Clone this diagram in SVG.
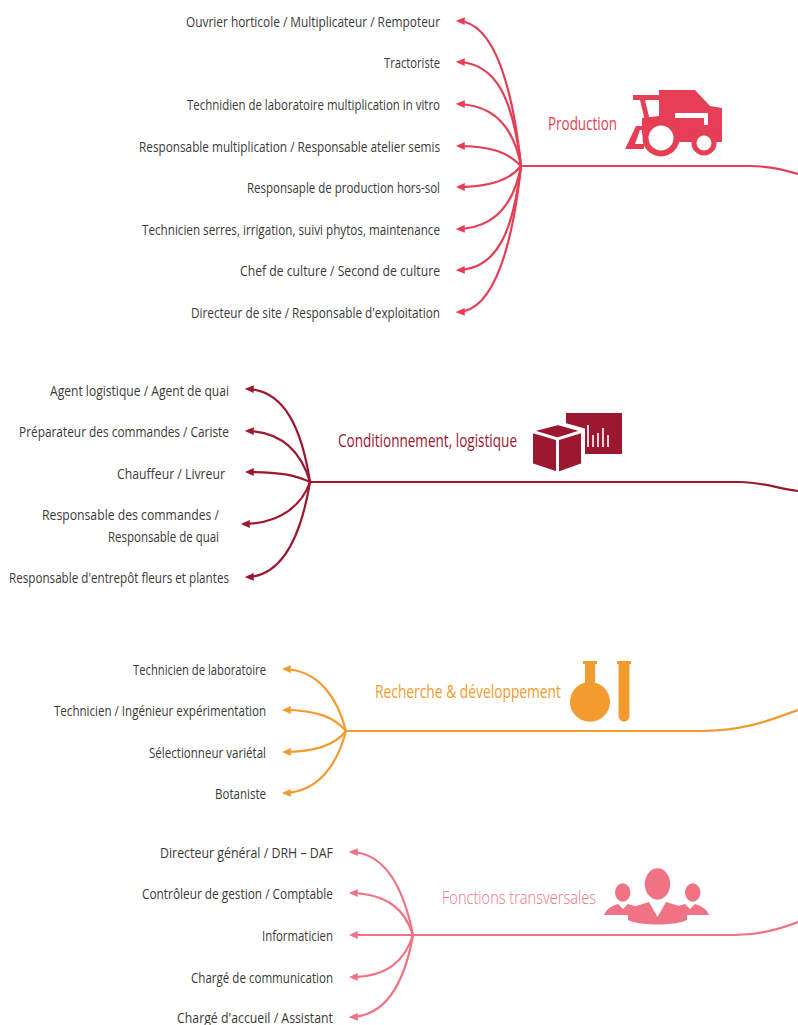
<svg xmlns="http://www.w3.org/2000/svg" width="798" height="1025" viewBox="0 0 798 1025">
<style>
text{font-family:"Open Sans","Liberation Sans",sans-serif}
.l{font-size:14.5px;fill:#3a3a3a}
.t{font-size:18px;font-weight:400}
.c{fill:none;stroke-width:2.2}
.a{stroke:#e63e54}.b{stroke:#9c1730}.o{stroke:#f29b2e}.p{stroke:#ef7384}
.ca{marker-end:url(#ma)}.cb{marker-end:url(#mb)}.co{marker-end:url(#mo)}.cp{marker-end:url(#mp)}
</style>
<defs>
<marker id="ma" markerUnits="userSpaceOnUse" viewBox="0 0 8 8" refX="6" refY="4" markerWidth="9" markerHeight="9" orient="auto"><path d="M0,0.5 L8,4 L0,7.5Z" fill="#e63e54"/></marker>
<marker id="mb" markerUnits="userSpaceOnUse" viewBox="0 0 8 8" refX="6" refY="4" markerWidth="9" markerHeight="9" orient="auto"><path d="M0,0.5 L8,4 L0,7.5Z" fill="#9c1730"/></marker>
<marker id="mo" markerUnits="userSpaceOnUse" viewBox="0 0 8 8" refX="6" refY="4" markerWidth="9" markerHeight="9" orient="auto"><path d="M0,0.5 L8,4 L0,7.5Z" fill="#f29b2e"/></marker>
<marker id="mp" markerUnits="userSpaceOnUse" viewBox="0 0 8 8" refX="6" refY="4" markerWidth="9" markerHeight="9" orient="auto"><path d="M0,0.5 L8,4 L0,7.5Z" fill="#ef7384"/></marker>
</defs>
<rect width="798" height="1025" fill="#fff"/>
<g id="connectors">
<g class="c a">
<path d="M521,166H750C770,166 785,170 798,174"/>
<path class="ca" d="M521,166C513,90 495,22 458,21"/>
<path class="ca" d="M521,166C513,100 497,63 458,62"/>
<path class="ca" d="M521,166C514,128 495,105 458,104"/>
<path class="ca" d="M521,166C508,152 490,146 458,146"/>
<path class="ca" d="M521,166C510,180 490,187 458,187"/>
<path class="ca" d="M521,166C514,204 495,228 458,229"/>
<path class="ca" d="M521,166C513,232 497,269 458,270"/>
<path class="ca" d="M521,166C513,242 495,311 458,312"/>
</g>
<g class="c b">
<path d="M310,482H740C762,482 780,489 798,491"/>
<path class="cb" d="M310,482C302,430 285,390 247,389"/>
<path class="cb" d="M310,482C302,455 285,432 247,431"/>
<path class="cb" d="M310,482C295,475 280,472 247,472"/>
<path class="cb" d="M310,482C302,505 280,524 243,524"/>
<path class="cb" d="M310,482C302,530 285,576 247,577"/>
</g>
<g class="c o">
<path d="M346,731H700C745,731 770,720 798,710"/>
<path class="co" d="M346,731C338,700 320,670 284,669"/>
<path class="co" d="M346,731C335,718 318,710 284,710"/>
<path class="co" d="M346,731C336,744 318,752 284,752"/>
<path class="co" d="M346,731C338,762 320,792 284,793"/>
</g>
<g class="c p">
<path d="M413,935H735C760,935 780,929 798,922"/>
<path class="cp" d="M413,935C405,895 388,853 351,852"/>
<path class="cp" d="M413,935C405,910 388,894 351,893"/>
<path class="cp" d="M413,935H351"/>
<path class="cp" d="M413,935C405,960 388,977 351,977"/>
<path class="cp" d="M413,935C405,980 388,1016 351,1017"/>
</g>
</g>
<g id="node-production">
<text class="t" x="548" y="130" textLength="69" lengthAdjust="spacingAndGlyphs" fill="#e63e54">Production</text>
<g id="icon-harvester" fill="#e63e54">
<path d="M659,90H695L710,106L722,108V142H716A12.5,12.5 0 0 0 692,142H678A18,18 0 0 0 642,138V118L659,116Z"/>
<circle cx="661" cy="138" r="15.5" fill="#fff" stroke="#e63e54" stroke-width="6"/>
<circle cx="704" cy="143" r="10" fill="#fff" stroke="#e63e54" stroke-width="5"/>
<path d="M633,95H660V100H645L651,125H646L640,100H633Z"/>
<path d="M636,126H650V130H640L635,144H644V149H625Z"/>
<path d="M675,113H708V125H704V118H675Z" fill="#fff"/>
</g>
<g class="l">
<text x="186" y="27" textLength="254" lengthAdjust="spacingAndGlyphs">Ouvrier horticole / Multiplicateur / Rempoteur</text>
<text x="384" y="68" textLength="56" lengthAdjust="spacingAndGlyphs">Tractoriste</text>
<text x="187" y="110" textLength="253" lengthAdjust="spacingAndGlyphs">Technidien de laboratoire multiplication in vitro</text>
<text x="139" y="152" textLength="301" lengthAdjust="spacingAndGlyphs">Responsable multiplication / Responsable atelier semis</text>
<text x="247" y="193" textLength="193" lengthAdjust="spacingAndGlyphs">Responsaple de production hors-sol</text>
<text x="142" y="235" textLength="298" lengthAdjust="spacingAndGlyphs">Technicien serres, irrigation, suivi phytos, maintenance</text>
<text x="240" y="276" textLength="200" lengthAdjust="spacingAndGlyphs">Chef de culture / Second de culture</text>
<text x="191" y="318" textLength="249" lengthAdjust="spacingAndGlyphs">Directeur de site / Responsable d'exploitation</text>
</g>
</g>
<g id="node-conditionnement">
<text class="t" x="338" y="447" textLength="179" lengthAdjust="spacingAndGlyphs" fill="#9c1730" style="font-weight:500">Conditionnement, logistique</text>
<g id="icon-box" fill="#9c1730">
<rect x="566" y="413" width="56" height="41"/>
<path d="M588,425V447M593,435V447M598,433V447M603,428V447M608,435V447" stroke="#fff" stroke-width="1.6" fill="none"/>
<path d="M531,430L558,423L583,430V465L558,474L531,465Z" stroke="#fff" stroke-width="4"/>
<path d="M531,431L557.5,439L583,431M557.5,439V474" stroke="#fff" stroke-width="3" fill="none"/>
</g>
<g class="l">
<text x="50" y="396" textLength="179" lengthAdjust="spacingAndGlyphs">Agent logistique / Agent de quai</text>
<text x="19" y="437" textLength="210" lengthAdjust="spacingAndGlyphs">Préparateur des commandes / Cariste</text>
<text x="117" y="479" textLength="108" lengthAdjust="spacingAndGlyphs">Chauffeur / Livreur</text>
<text x="42" y="520" textLength="177" lengthAdjust="spacingAndGlyphs">Responsable des commandes /</text>
<text x="108" y="542" textLength="111" lengthAdjust="spacingAndGlyphs">Responsable de quai</text>
<text x="9" y="583" textLength="220" lengthAdjust="spacingAndGlyphs">Responsable d'entrepôt fleurs et plantes</text>
</g>
</g>
<g id="node-recherche">
<text class="t" x="375" y="698" textLength="186" lengthAdjust="spacingAndGlyphs" fill="#f29b2e">Recherche &amp; développement</text>
<g id="icon-flask" fill="#f29b2e">
<path d="M583,661H597V664H595V682.5A20,20 0 1 1 585,682.5V664H583Z"/>
<path d="M617,661H631V664H629.5V716A5.5,5.5 0 0 1 618.5,716V664H617Z"/>
</g>
<g class="l">
<text x="133" y="675" textLength="133" lengthAdjust="spacingAndGlyphs">Technicien de laboratoire</text>
<text x="54" y="716" textLength="212" lengthAdjust="spacingAndGlyphs">Technicien / Ingénieur expérimentation</text>
<text x="149" y="758" textLength="117" lengthAdjust="spacingAndGlyphs">Sélectionneur variétal</text>
<text x="215" y="799" textLength="51" lengthAdjust="spacingAndGlyphs">Botaniste</text>
</g>
</g>
<g id="node-fonctions">
<text class="t" x="442" y="904" textLength="154" lengthAdjust="spacingAndGlyphs" fill="#ef7384" style="font-weight:300">Fonctions transversales</text>
<g id="icon-people" fill="#ef7384">
<ellipse cx="657.5" cy="884" rx="12.7" ry="15.7"/>
<ellipse cx="622.7" cy="892.5" rx="7.7" ry="9.3"/>
<ellipse cx="692.7" cy="892.5" rx="7.7" ry="9.3"/>
<path d="M604,915C606,909 612,906 618,904L623,909L628,904L635,906L628,915Z"/>
<path d="M709,915C707,909 701,906 695,904L690,909L685,904L678,906L685,915Z"/>
<path d="M628,916C628,911 630,908 636,906L649,902L657.5,917L666,902L679,906C685,908 687,911 687,916V920C675,926 640,926 628,920Z"/>
</g>
<g class="l">
<text x="160" y="858" textLength="173" lengthAdjust="spacingAndGlyphs">Directeur général / DRH – DAF</text>
<text x="142" y="899" textLength="191" lengthAdjust="spacingAndGlyphs">Contrôleur de gestion / Comptable</text>
<text x="262" y="941" textLength="71" lengthAdjust="spacingAndGlyphs">Informaticien</text>
<text x="191" y="983" textLength="142" lengthAdjust="spacingAndGlyphs">Chargé de communication</text>
<text x="177" y="1023" textLength="156" lengthAdjust="spacingAndGlyphs">Chargé d'accueil / Assistant</text>
</g>
</g>
</svg>
